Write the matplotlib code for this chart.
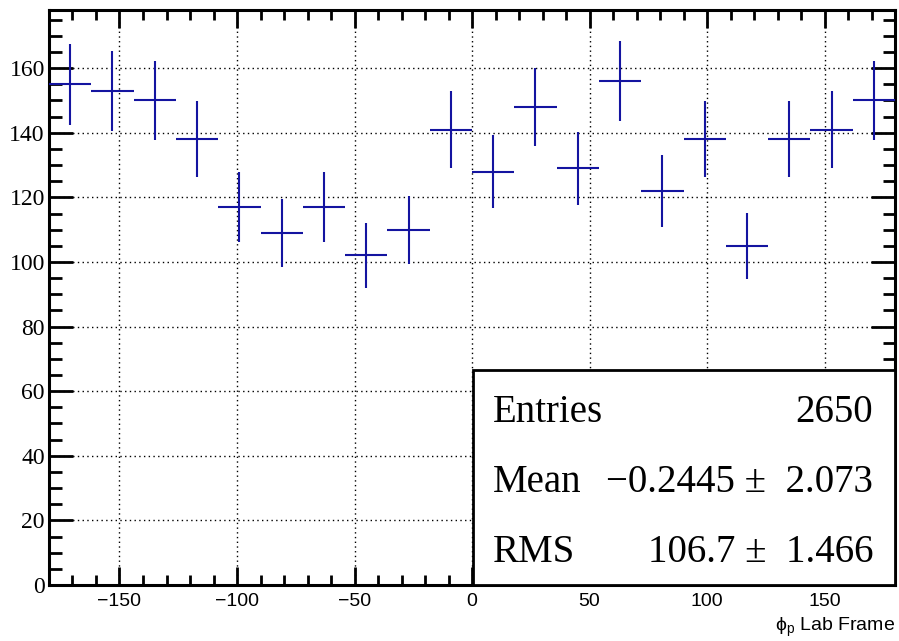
import numpy as np
import matplotlib
matplotlib.use("Agg")
import matplotlib.pyplot as plt
from matplotlib.patches import Rectangle
from matplotlib.ticker import MultipleLocator

# Histogram of the proton azimuthal angle in the lab frame (20 bins of 18 deg)
bin_edges = np.linspace(-180, 180, 21)
counts = [155, 153, 150, 138, 117, 109, 117, 102, 110, 141,
          128, 148, 129, 156, 122, 138, 105, 138, 141, 150]

# Statistics box contents
n_entries = 2650
mean_val, mean_err = -0.2445, 2.073
rms_val, rms_err = 106.7, 1.466

x_ticks = [-150, -100, -50, 0, 50, 100, 150]
y_ticks = [0, 20, 40, 60, 80, 100, 120, 140, 160]

counts = np.asarray(counts, dtype=float)
centers = 0.5 * (bin_edges[:-1] + bin_edges[1:])
half_width = 0.5 * np.diff(bin_edges)
errors = np.sqrt(counts)

plt.rcParams["mathtext.fontset"] = "custom"
plt.rcParams["mathtext.rm"] = "Liberation Sans"
plt.rcParams["mathtext.it"] = "Liberation Sans"

fig = plt.figure(figsize=(8.99, 6.41), dpi=100)
ax = fig.add_axes([0.0545, 0.0874, 0.9411, 0.8970])

ax.errorbar(centers, counts, xerr=half_width, yerr=errors, fmt="none",
            ecolor="#1414a0", elinewidth=1.5, capsize=0, zorder=3)

ax.set_xlim(-180, 180)
ax.set_ylim(0, 178)
ax.set_xticks(x_ticks)
ax.set_yticks(y_ticks)
ax.xaxis.set_minor_locator(MultipleLocator(10))
ax.yaxis.set_minor_locator(MultipleLocator(5))
ax.set_xticklabels([str(v).replace("-", "\u2212") for v in x_ticks],
                   family="Liberation Sans", fontsize=14)
ax.set_yticklabels([str(v) for v in y_ticks],
                   family="Liberation Serif", fontsize=17)

for side in ax.spines.values():
    side.set_linewidth(2.2)

ax.tick_params(which="both", direction="in", top=True, right=True, width=2.0)
ax.tick_params(axis="x", which="major", length=13, pad=6)
ax.tick_params(axis="x", which="minor", length=7)
ax.tick_params(axis="y", which="major", length=17, pad=3)
ax.tick_params(axis="y", which="minor", length=9)

ax.grid(True, which="major", color="black", linestyle=(0, (1, 2.4)),
        linewidth=1.0)
ax.set_axisbelow(True)

# Axis title at the lower right
fig.text(895 / 899, 1 - 631 / 641, "\u03d5$_{\\mathregular{p}}$ Lab Frame",
         family="Liberation Sans", fontsize=14, ha="right", va="baseline")

# Statistics box
box = Rectangle((0.5008, 0.0), 0.4992, 0.374, transform=ax.transAxes,
                facecolor="white", edgecolor="black", linewidth=2.0,
                zorder=4, clip_on=False)
ax.add_patch(box)

mean_txt = (f"\u2212{abs(mean_val):.4f}" if mean_val < 0 else f"{mean_val:.4f}")
rows = [
    ("Entries", f"{n_entries}"),
    ("Mean", f"{mean_txt} \u00b1  {mean_err:.3f}"),
    ("RMS", f"{rms_val:.1f} \u00b1  {rms_err:.3f}"),
]
row_y = [0.284, 0.1623, 0.0405]
for (label, value), yy in zip(rows, row_y):
    ax.text(0.5248, yy, label, transform=ax.transAxes, family="Liberation Serif",
            fontsize=28, ha="left", va="baseline", zorder=5)
    ax.text(0.974, yy, value, transform=ax.transAxes, family="Liberation Serif",
            fontsize=28, ha="right", va="baseline", zorder=5)

fig.savefig("out.png", dpi=100)
